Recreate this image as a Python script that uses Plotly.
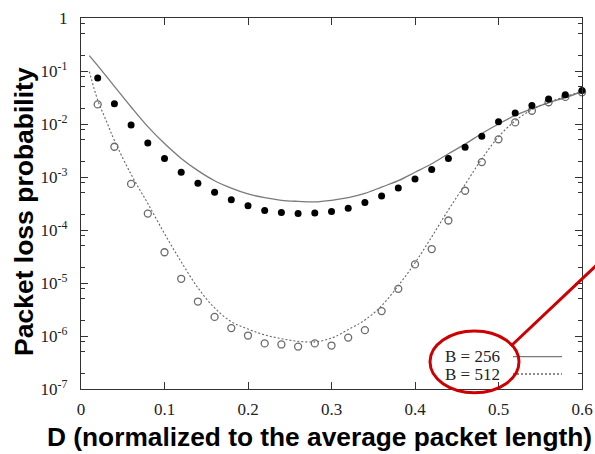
import plotly.graph_objects as go

# ---- data ----
sim_x = [round(0.02 * i, 2) for i in range(1, 31)]
sim_256 = [0.0741, 0.0240, 0.00955, 0.00437, 0.00224, 0.00123, 7.59e-4, 5.13e-4,
           3.72e-4, 2.88e-4, 2.34e-4, 2.14e-4, 2.04e-4, 2.09e-4, 2.24e-4, 2.57e-4,
           3.31e-4, 4.37e-4, 6.17e-4, 9.12e-4, 1.38e-3, 2.24e-3, 3.63e-3, 5.89e-3,
           0.0110, 0.0162, 0.0224, 0.0295, 0.0355, 0.0427]
sim_512 = [0.0234, 3.72e-3, 7.41e-4, 2.04e-4, 3.80e-5, 1.20e-5, 4.47e-6, 2.29e-6,
           1.41e-6, 1.02e-6, 7.24e-7, 6.92e-7, 6.31e-7, 7.24e-7, 6.61e-7, 9.33e-7,
           1.29e-6, 2.95e-6, 7.76e-6, 2.24e-5, 4.37e-5, 1.51e-4, 5.50e-4, 1.91e-3,
           5.13e-3, 0.0107, 0.0178, 0.0257, 0.0324, 0.0398]

ana256_x = [0.01] + [round(0.02 * i, 2) for i in range(1, 31)]
ana_256 = [0.195, 0.126, 0.0513, 0.0209, 8.91e-3, 4.27e-3, 2.24e-3, 1.32e-3, 8.51e-4,
           6.17e-4, 4.79e-4, 4.07e-4, 3.63e-4, 3.47e-4, 3.39e-4, 3.63e-4, 4.07e-4,
           4.90e-4, 6.46e-4, 8.51e-4, 1.23e-3, 1.78e-3, 2.75e-3, 4.17e-3, 6.61e-3,
           0.0100, 0.0145, 0.0195, 0.0251, 0.0316, 0.0407]

ana512_x = [0.01, 0.02, 0.03] + [round(0.02 * i, 2) for i in range(2, 31)]
ana_512 = [0.0977, 0.0282, 0.01175, 4.90e-3, 1.12e-3, 3.16e-4, 8.51e-5, 2.51e-5,
           8.13e-6, 3.39e-6, 1.86e-6, 1.35e-6, 1.05e-6, 8.91e-7, 7.94e-7, 7.76e-7,
           9.12e-7, 1.32e-6, 2.00e-6, 3.72e-6, 8.91e-6, 2.40e-5, 7.41e-5, 2.40e-4,
           7.24e-4, 2.19e-3, 5.75e-3, 0.0115, 0.0186, 0.0257, 0.0331, 0.0407]

x_ticks = [0, 0.1, 0.2, 0.3, 0.4, 0.5, 0.6]
x_ticktext = ["0", "0.1", "0.2", "0.3", "0.4", "0.5", "0.6"]
y_ticks = [1, 1e-1, 1e-2, 1e-3, 1e-4, 1e-5, 1e-6, 1e-7]
y_ticktext = ["1", "10<sup>-1</sup>", "10<sup>-2</sup>", "10<sup>-3</sup>",
              "10<sup>-4</sup>", "10<sup>-5</sup>", "10<sup>-6</sup>", "10<sup>-7</sup>"]
y_minor = [m * 10.0 ** e for e in range(-7, 0) for m in (2, 5, 8)]

legend_labels = ["B = 256", "B = 512"]
x_title = "D (normalized to the average packet length)"
y_title = "Packet loss probability"

# ---- figure ----
fig = go.Figure()
fig.add_trace(go.Scatter(x=ana256_x, y=ana_256, mode="lines", line_shape="spline",
                         line=dict(color="#7a7a7a", width=1.3), showlegend=False,
                         cliponaxis=False))
fig.add_trace(go.Scatter(x=ana512_x, y=ana_512, mode="lines", line_shape="spline",
                         line=dict(color="#666666", width=1.1, dash="2px,2px"),
                         showlegend=False, cliponaxis=False))
fig.add_trace(go.Scatter(x=sim_x, y=sim_512, mode="markers",
                         marker=dict(symbol="circle-open", size=7, color="#6a6a6a",
                                     line=dict(width=1.3, color="#6a6a6a")),
                         showlegend=False, cliponaxis=False))
fig.add_trace(go.Scatter(x=sim_x, y=sim_256, mode="markers",
                         marker=dict(symbol="circle", size=7, color="black"),
                         showlegend=False, cliponaxis=False))

L, R, T, B = 81, 13, 18, 65
W, H = 595, 454
pw, ph = W - L - R, H - T - B

def px(x):
    return (x - L) / pw

def py(y):
    return (H - B - y) / ph

serif = "Liberation Serif, Times New Roman, serif"
sans = "Liberation Sans, Arial, sans-serif"

fig.update_layout(
    width=W, height=H,
    margin=dict(l=L, r=R, t=T, b=B, pad=0),
    paper_bgcolor="white", plot_bgcolor="white",
    xaxis=dict(range=[0, 0.6], tickvals=x_ticks, ticktext=x_ticktext,
               showgrid=False, zeroline=False, showline=True, linecolor="#333",
               linewidth=1.3, mirror="allticks", ticks="inside", ticklen=7,
               tickcolor="#333", tickwidth=1, ticklabelstandoff=4, automargin=False,
               tickfont=dict(family=serif, size=17, color="#222")),
    yaxis=dict(type="log", range=[-7, 0], tickvals=y_ticks, ticktext=y_ticktext,
               showgrid=False, zeroline=False, showline=True, linecolor="#333",
               linewidth=1.3, mirror="allticks", ticks="inside", ticklen=7,
               tickcolor="#333", tickwidth=1, ticklabelstandoff=9, automargin=False,
               tickfont=dict(family=serif, size=17, color="#222"),
               minor=dict(tickvals=y_minor, ticks="inside", ticklen=4,
                          tickcolor="#333", tickwidth=1, showgrid=False)),
)

# axis titles
fig.add_annotation(text="<b>" + x_title + "</b>", xref="paper", yref="paper",
                   x=px(319), y=py(437), showarrow=False, xanchor="center",
                   yanchor="middle", font=dict(family=sans, size=26.3, color="black"))
fig.add_annotation(text="<b>" + y_title + "</b>", xref="paper", yref="paper",
                   x=px(24), y=py(212), showarrow=False, xanchor="center",
                   yanchor="middle", textangle=-90,
                   font=dict(family=sans, size=26.5, color="black"))

# legend (gnuplot style: text left, sample right)
for lab, yy, dash, col in [(legend_labels[0], 356.7, "solid", "#7a7a7a"),
                           (legend_labels[1], 374.0, "2px,2px", "#666666")]:
    fig.add_annotation(text=lab, xref="paper", yref="paper", x=px(502), y=py(yy),
                       showarrow=False, xanchor="right", yanchor="middle",
                       font=dict(family=serif, size=17, color="#222"))
    fig.add_shape(type="line", xref="paper", yref="paper", x0=px(513), x1=px(562),
                  y0=py(yy), y1=py(yy), line=dict(color=col, width=1.3, dash=dash))

# red callout
fig.add_shape(type="circle", xref="paper", yref="paper", x0=px(430), x1=px(519),
              y0=py(392.7), y1=py(331), line=dict(color="#cc0000", width=3),
              layer="above")
fig.add_shape(type="line", xref="paper", yref="paper", x0=px(511), y0=py(346),
              x1=px(602), y1=py(260), line=dict(color="#cc0000", width=3),
              layer="above")

fig.write_html("out.html", config={"displayModeBar": False},
               post_script="document.body.style.margin='0';")
